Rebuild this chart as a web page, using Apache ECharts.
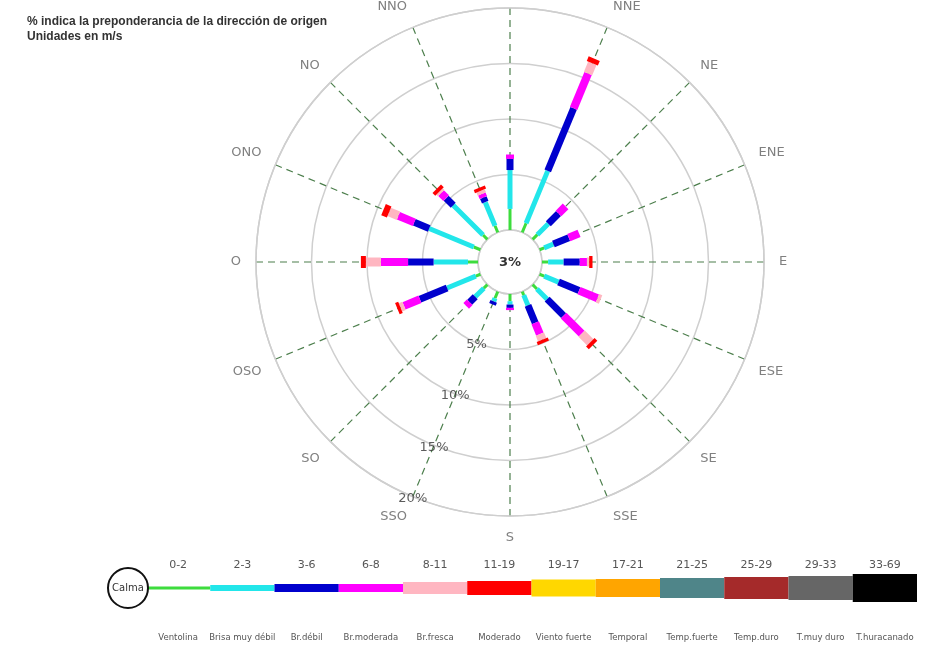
<!DOCTYPE html>
<html>
<head>
<meta charset="utf-8">
<script src="https://cdn.jsdelivr.net/npm/echarts@6/dist/echarts.min.js"></script>
<style>
  html, body { margin: 0; padding: 0; background: #fff; }
  #rosa { width: 934px; height: 645px; }
</style>
</head>
<body>
<div id="rosa"></div>
<script>
// direcciones de origen (sentido horario desde el norte)
var directions = ['N', 'NNE', 'NE', 'ENE', 'E', 'ESE', 'SE', 'SSE', 'S', 'SSO', 'SO', 'OSO', 'O', 'ONO', 'NO', 'NNO'];

// % por clase de velocidad, una entrada por direccion
var v0_2   = [1.9, 0.9, 0.6, 0.45, 0.55, 0.45, 0.55, 0.35, 0.65, 0.65, 0.45, 0.45, 0.9, 0.65, 0.55, 0.65];
var v2_3   = [3.5, 5.1, 1.4, 0.9, 1.4, 1.4, 1.3, 1.0, 0.3, 0.3, 1.1, 2.8, 3.1, 4.35, 3.8, 2.3];
var v3_6   = [1.0, 6.1, 1.3, 1.5, 1.45, 2.0, 2.1, 1.7, 0.3, 0.3, 0.7, 2.65, 2.3, 1.45, 0.9, 0.45];
var v6_8   = [0.4, 3.4, 0.9, 1.0, 0.65, 1.8, 2.3, 1.1, 0.2, 0, 0.45, 1.55, 2.45, 1.55, 0.65, 0.35];
var v8_11  = [0, 1.0, 0, 0, 0.2, 0.3, 1.1, 0.55, 0, 0, 0, 0.35, 1.35, 0.9, 0.2, 0.3];
var v11_19 = [0, 0.45, 0, 0, 0.3, 0, 0.35, 0.3, 0, 0, 0, 0.3, 0.45, 0.55, 0.35, 0.3];
var calm = 3;
var radiusTicks = [5, 10, 15, 20];

// leyenda
var classRanges = ['0-2', '2-3', '3-6', '6-8', '8-11', '11-19', '19-17', '17-21', '21-25', '25-29', '29-33', '33-69'];
var classNames = ['Ventolina', 'Brisa muy débil', 'Br.débil', 'Br.moderada', 'Br.fresca', 'Moderado', 'Viento fuerte', 'Temporal', 'Temp.fuerte', 'Temp.duro', 'T.muy duro', 'T.huracanado'];
var classColors = ['#3ddc3d', '#22e6ea', '#0000cd', '#ff00ff', '#ffb6c1', '#ff0000', '#ffd700', '#ffa500', '#4f8589', '#a52a2a', '#666666', '#000000'];
var barWidths = [3, 5, 7, 8, 9, 12];
var legendHeights = [3, 6, 8, 8, 12, 14, 17, 18, 20, 22, 24, 28];

var classSeries = [v0_2, v2_3, v3_6, v6_8, v8_11, v11_19];

// segmentos apilados: [fin, angulo, inicio, clase]
var segments = [];
directions.forEach(function (d, i) {
  var acc = 0;
  classSeries.forEach(function (arr, c) {
    var v = arr[i];
    if (v > 0) {
      segments.push([acc + v, i * 22.5, acc, c]);
      acc += v;
    }
  });
});

var chart = echarts.init(document.getElementById('rosa'));

chart.setOption({
  animation: false,
  title: {
    text: '% indica la preponderancia de la dirección de origen\nUnidades en m/s',
    left: 22,
    top: 9,
    textStyle: { fontSize: 12, fontWeight: 'bold', color: '#333', lineHeight: 15, fontFamily: 'Liberation Sans' }
  },
  polar: { center: [510, 262], radius: [32, 254] },
  angleAxis: {
    type: 'value', min: 0, max: 360, interval: 22.5, startAngle: 90,
    axisLine: { show: true, lineStyle: { color: '#cfcfcf', width: 1.5 } },
    axisTick: { show: false },
    splitLine: { show: true, lineStyle: { color: '#4d7f4d', type: [7, 5], width: 1.2 } },
    axisLabel: {
      margin: 15, color: '#808080', fontSize: 13, fontFamily: 'DejaVu Sans',
      formatter: function (v) { return directions[Math.round(v / 22.5) % 16]; }
    }
  },
  radiusAxis: {
    type: 'value', min: 0, max: 20, interval: 5,
    axisLine: { show: false }, axisTick: { show: false }, axisLabel: { show: false },
    splitLine: { show: true, lineStyle: { color: '#cfcfcf', width: 1.5 } }
  },
  grid: { left: 146, width: 771, top: 574, height: 28 },
  xAxis: [
    {
      type: 'category', data: classRanges, position: 'top', gridIndex: 0,
      axisLine: { show: false }, axisTick: { show: false },
      axisLabel: { margin: 3, fontSize: 11, color: '#555', fontFamily: 'DejaVu Sans' }
    },
    {
      type: 'category', data: classNames, position: 'bottom', gridIndex: 0,
      axisLine: { show: false }, axisTick: { show: false },
      axisLabel: { margin: 31, fontSize: 8.5, color: '#555', fontFamily: 'DejaVu Sans', interval: 0 }
    }
  ],
  yAxis: { type: 'value', min: -1, max: 1, show: false },
  graphic: [
    {
      type: 'text', x: 510, y: 263, z: 100,
      style: { text: calm + '%', fill: '#333', fontSize: 13, fontWeight: 'bold', fontFamily: 'DejaVu Sans', align: 'center', verticalAlign: 'middle' }
    },
    {
      type: 'circle', shape: { cx: 128, cy: 588, r: 20 }, z: 100,
      style: { fill: '#fff', stroke: '#111', lineWidth: 2 }
    },
    {
      type: 'text', z: 101, x: 128, y: 588,
      style: { text: 'Calma', fill: '#333', fontSize: 10, fontFamily: 'DejaVu Sans', align: 'center', verticalAlign: 'middle' }
    }
  ],
  series: [
    {
      type: 'custom',
      coordinateSystem: 'polar',
      data: segments,
      renderItem: function (params, api) {
        var a = api.value(1), r0 = api.value(2), r1 = api.value(0), c = api.value(3);
        var p0 = api.coord([r0, a]), p1 = api.coord([r1, a]);
        var dx = p1[0] - p0[0], dy = p1[1] - p0[1];
        var len = Math.sqrt(dx * dx + dy * dy) || 1;
        var w = barWidths[c] / 2;
        var nx = -dy / len * w, ny = dx / len * w;
        return {
          type: 'polygon',
          shape: { points: [[p0[0] + nx, p0[1] + ny], [p1[0] + nx, p1[1] + ny], [p1[0] - nx, p1[1] - ny], [p0[0] - nx, p0[1] - ny]] },
          style: { fill: classColors[c] }
        };
      },
      z: 5
    },
    {
      type: 'scatter',
      coordinateSystem: 'polar',
      symbolSize: 1,
      itemStyle: { color: 'transparent' },
      data: radiusTicks.map(function (v) { return [v, directions.indexOf('SSO') * 22.5]; }),
      label: {
        show: true, position: 'inside', offset: [0, 2],
        formatter: function (p) { return p.value[0] + '%'; },
        fontSize: 13, color: '#333', fontFamily: 'DejaVu Sans'
      },
      z: 6
    },
    {
      type: 'custom',
      xAxisIndex: 0,
      yAxisIndex: 0,
      data: classColors.map(function (col, i) { return [i, 0]; }),
      renderItem: function (params, api) {
        var i = api.value(0);
        var p = api.coord([i, 0]);
        var bw = api.size([1, 0])[0];
        var h = legendHeights[i];
        return {
          type: 'rect',
          shape: { x: p[0] - bw / 2, y: p[1] - h / 2, width: bw, height: h },
          style: { fill: classColors[i] }
        };
      }
    }
  ]
});
</script>
</body>
</html>
